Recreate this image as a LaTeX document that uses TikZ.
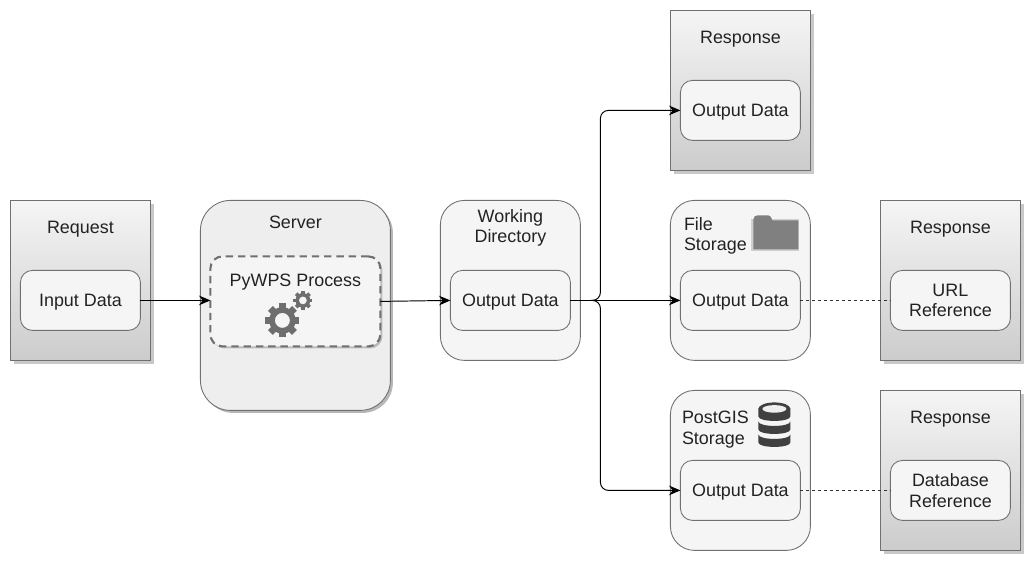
\documentclass[tikz,border=0pt]{standalone}
\usepackage{fontspec}
\setmainfont{Liberation Sans}
\usetikzlibrary{shadows,arrows.meta}
\definecolor{edgegray}{HTML}{707070}
\definecolor{boxgray}{HTML}{F5F5F5}
\definecolor{servergray}{HTML}{EEEEEE}
\definecolor{icongray}{HTML}{6E6E6E}
\definecolor{foldergray}{HTML}{808080}
\definecolor{dbdark}{HTML}{404040}
\definecolor{labelgray}{HTML}{222222}
\tikzset{
  every node/.style={font=\fontsize{10.2pt}{11.8pt}\selectfont,text=labelgray,align=center},
  lowtext/.style={execute at begin node={\rule{0pt}{9.2pt}}},
  outerbox/.style={draw=edgegray,line width=0.5pt,minimum width=2.8cm,minimum height=3.2cm,outer sep=0pt},
  docbox/.style={outerbox,top color=boxgray,bottom color=black!20,
    drop shadow={shadow xshift=0.07cm,shadow yshift=-0.07cm,fill=black!30,opacity=0.7}},
  storebox/.style={outerbox,fill=boxgray,rounded corners=0.48cm},
  innerbox/.style={draw=edgegray,line width=0.5pt,fill=boxgray,rounded corners=0.24cm,
    minimum width=2.4cm,minimum height=1.2cm,outer sep=0pt,lowtext},
  flow/.style={-{Stealth[length=6.5pt,width=5.5pt]},line width=0.55pt,black},
  refline/.style={line width=0.45pt,black!80,dash pattern=on 1.7pt off 1.7pt},
}
% one gear: centre, outer radius, hole radius
\newcommand{\geartooth}[3]{
  \fill[icongray,even odd rule] (#1) circle[radius=#2*0.78] (#1) circle[radius=#3];
  \foreach \ang in {0,45,...,315}
    \fill[icongray,shift={(#1)},rotate=\ang] (#2*0.72,-#2*0.2) rectangle (#2,#2*0.2);
}
\begin{document}
\begin{tikzpicture}[x=0.02cm,y=-0.02cm]
  \useasboundingbox (0.6,0.6) rectangle (1034.6,565.6);

  % request
  \node[docbox] (request) at (81,281) {};
  \node[lowtext] (requesttitle) at (81,227.5) {Request};
  \node[innerbox] (input) at (81,301) {Input Data};

  % server
  \node[outerbox,fill=servergray,minimum width=3.8cm,minimum height=4.2cm,rounded corners=0.6cm,
    drop shadow={shadow xshift=0.05cm,shadow yshift=-0.05cm,fill=black!40,opacity=0.7}] (server) at (296,306) {};
  \node[lowtext] (servertitle) at (296,221.5) {Server};
  \node[draw=edgegray,line width=1.2pt,dash pattern=on 4.2pt off 2.8pt,fill=boxgray,rounded corners=0.24cm,
    minimum width=3.4cm,minimum height=1.8cm,outer sep=0pt,
    drop shadow={shadow xshift=0.04cm,shadow yshift=-0.04cm,fill=black!35,opacity=0.7}] (process) at (296,302) {};
  \node[lowtext] (processtitle) at (296,280.5) {PyWPS Process};
  \geartooth{283,321}{17}{7.5}
  \geartooth{303.5,301}{9.5}{4}

  % working directory
  \node[storebox,minimum height=3.2cm] (workdir) at (511,281) {};
  \node[lowtext] (workdirtitle) at (511,228.5) {Working\\Directory};
  \node[innerbox] (workout) at (511,301) {Output Data};

  % top response
  \node[docbox] (responsea) at (741,91) {};
  \node[lowtext] (responseatitle) at (741,37.5) {Response};
  \node[innerbox] (outa) at (741,111) {Output Data};

  % file storage
  \node[storebox] (filestore) at (741,281) {};
  \node (filetitle) at (716,236.5) [align=left] {File\\Storage};
  \node[innerbox] (outb) at (741,301) {Output Data};
  \fill[boxgray!85!black] (752,220) rectangle (800,252);
  \fill[foldergray] (754,220) .. controls (754,217) and (756,216) .. (758,216) -- (769,216)
    .. controls (771,216) and (772,218) .. (773,221) -- (799,221) -- (799,250) -- (754,250) -- cycle;

  % url response
  \node[docbox] (responseb) at (951,281) {};
  \node[lowtext] (responsebtitle) at (951,227.5) {Response};
  \node[innerbox,execute at begin node={}] (urlref) at (951,301) {URL\\Reference};

  % postgis storage
  \node[storebox] (dbstore) at (741,471) {};
  \node (dbtitle) at (716,430.5) [align=left] {PostGIS\\Storage};
  \node[innerbox] (outc) at (741,491) {Output Data};
  \foreach \ty in {435,422,409}
    \fill[dbdark] (759,\ty) -- (759,\ty+8) .. controls (759,\ty+14) and (791,\ty+14) .. (791,\ty+8)
      -- (791,\ty) .. controls (791,\ty+6) and (759,\ty+6) .. (759,\ty) -- cycle;
  \fill[dbdark] (775,409.5) ellipse[x radius=16,y radius=6.5];
  \fill[servergray] (775,409.5) ellipse[x radius=12,y radius=3.8];

  % database response
  \node[docbox] (responsec) at (951,471) {};
  \node[lowtext] (responsectitle) at (951,417.5) {Response};
  \node[innerbox,execute at begin node={}] (dbref) at (951,491) {Database\\Reference};

  % connectors
  \coordinate (forkstart) at (592,301);
  \coordinate (forkpoint) at (601,301);
  \draw[flow] (input.east) -- (input.east -| process.west);
  \draw[flow] (process.east) -- (workout.west);
  \draw[flow] (workout.east) -- (outb.west);
  \draw[flow,rounded corners=0.16cm] (forkstart) -- (forkpoint) |- (outa.west);
  \draw[flow,rounded corners=0.16cm] (forkstart) -- (forkpoint) |- (outc.west);
  \draw[refline] (outb.east) -- (urlref.west);
  \draw[refline] (outc.east) -- (dbref.west);
\end{tikzpicture}
\end{document}
